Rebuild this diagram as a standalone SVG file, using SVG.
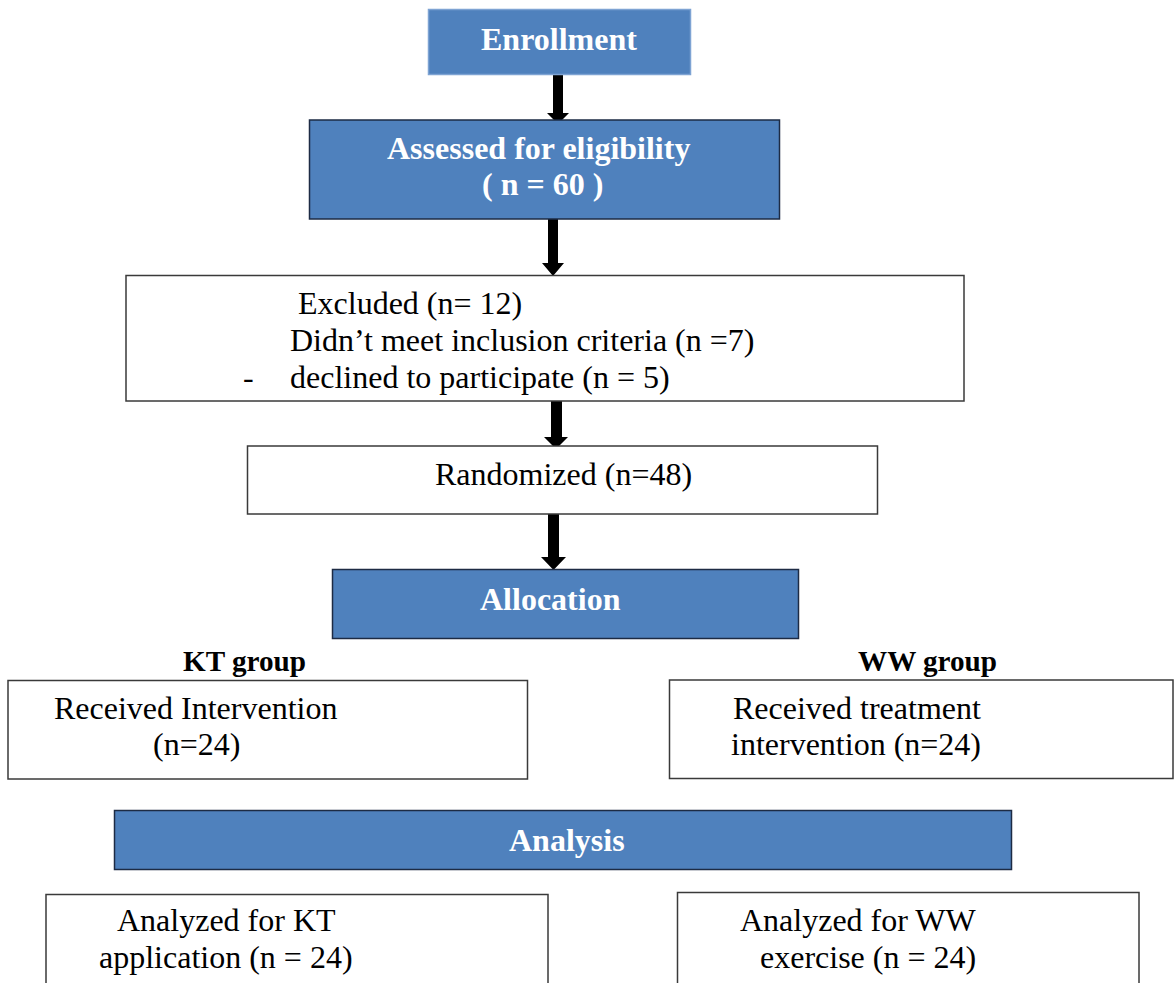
<svg xmlns="http://www.w3.org/2000/svg" width="1174" height="983" viewBox="0 0 1174 983">
  <defs>
    <style>
      .blue { fill: #4F81BD; stroke: #1d2b44; stroke-width: 1.5; }
      .white { fill: #ffffff; stroke: #3a3a3a; stroke-width: 1.5; }
      .hdr { font-family: "Liberation Serif", "Times New Roman", serif; font-weight: bold; font-size: 32px; fill: #ffffff; }
      .grp { font-family: "Liberation Serif", "Times New Roman", serif; font-weight: bold; font-size: 30px; fill: #000000; }
      .txt { font-family: "Liberation Serif", "Times New Roman", serif; font-size: 32px; fill: #000000; }
      .arrow { fill: #000000; }
    </style>
    <clipPath id="exclClip">
      <rect x="126" y="275" width="838" height="121"/>
    </clipPath>
  </defs>
  <rect x="0" y="0" width="1174" height="983" fill="#ffffff"/>

  <g id="connectors">
    <path class="arrow" d="M553,75 H563 V113 H569 L558,124 L547,113 H553 Z"/>
    <path class="arrow" d="M548,219 H558 V263 H564 L553,276 L542,263 H548 Z"/>
    <path class="arrow" d="M551,401 H562 V437 H568 L556,449 L544,437 H551 Z"/>
    <path class="arrow" d="M548,514 H559 V557 H566 L553.5,570 L541,557 H548 Z"/>
  </g>

  <g id="enrollment">
    <rect x="428.5" y="9.5" width="262" height="65" fill="#4F81BD" stroke="#7ea3d3" stroke-width="1.5"/>
    <text class="hdr" x="481" y="50">Enrollment</text>
  </g>

  <g id="assessed">
    <rect class="blue" x="309.5" y="120" width="470" height="99"/>
    <text class="hdr" x="387" y="159">Assessed for eligibility</text>
    <text class="hdr" x="482" y="195" xml:space="preserve">( n = 60 )</text>
  </g>

  <g id="excluded">
    <rect class="white" x="126" y="275.5" width="838" height="125.5"/>
    <g clip-path="url(#exclClip)">
      <text class="txt" x="298" y="314">Excluded (n= 12)</text>
      <text class="txt" x="290" y="351">Didn’t meet inclusion criteria (n =7)</text>
      <text class="txt" x="243" y="388">-</text>
      <text class="txt" x="290" y="388">declined to participate (n = 5)</text>
    </g>
  </g>

  <g id="randomized">
    <rect class="white" x="247.5" y="446" width="630" height="68"/>
    <text class="txt" x="435" y="485">Randomized (n=48)</text>
  </g>

  <g id="allocation">
    <rect class="blue" x="332.5" y="569.5" width="466" height="69"/>
    <text class="hdr" x="480" y="610">Allocation</text>
  </g>

  <g id="kt-group-label">
    <text class="grp" x="183" y="671" textLength="123" lengthAdjust="spacingAndGlyphs">KT group</text>
  </g>
  <g id="ww-group-label">
    <text class="grp" x="858" y="671" textLength="139" lengthAdjust="spacingAndGlyphs">WW group</text>
  </g>

  <g id="kt-received">
    <rect class="white" x="8" y="680.5" width="519.5" height="98.5"/>
    <text class="txt" x="54" y="719">Received Intervention</text>
    <text class="txt" x="153" y="755">(n=24)</text>
  </g>

  <g id="ww-received">
    <rect class="white" x="669.5" y="680" width="503.5" height="98.5"/>
    <text class="txt" x="733" y="719">Received treatment</text>
    <text class="txt" x="731" y="755">intervention (n=24)</text>
  </g>

  <g id="analysis">
    <rect class="blue" x="114.5" y="810.5" width="897" height="59"/>
    <text class="hdr" x="509" y="851">Analysis</text>
  </g>

  <g id="kt-analyzed">
    <rect class="white" x="46" y="894.5" width="502" height="100"/>
    <text class="txt" x="117" y="931">Analyzed for KT</text>
    <text class="txt" x="99" y="968">application (n = 24)</text>
  </g>

  <g id="ww-analyzed">
    <rect class="white" x="677.5" y="892.5" width="461.5" height="100"/>
    <text class="txt" x="740" y="931">Analyzed for WW</text>
    <text class="txt" x="760" y="968">exercise (n = 24)</text>
  </g>
</svg>
